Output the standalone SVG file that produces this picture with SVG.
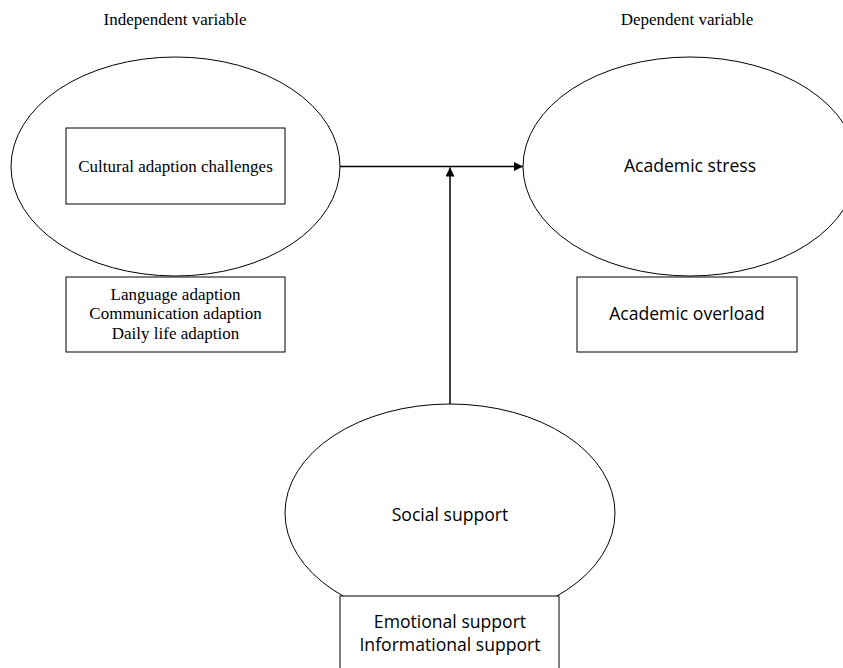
<svg xmlns="http://www.w3.org/2000/svg" width="843" height="668" viewBox="0 0 843 668">
<style>
.shape{fill:#fff;stroke:#000;stroke-width:1}
.serif{font-family:"Liberation Serif","DejaVu Serif",serif;font-size:17px;fill:#000;text-anchor:middle}
.sans{font-family:"Open Sans","Liberation Sans",sans-serif;font-size:17.6px;fill:#000;text-anchor:middle}
.conn{stroke:#000;stroke-width:1.5;fill:none}
</style>
<defs>
<marker id="arr" viewBox="0 0 10 10" refX="10" refY="5" markerWidth="10" markerHeight="9" markerUnits="userSpaceOnUse" orient="auto">
<path d="M0,0 L10,5 L0,10 z" fill="#000"/>
</marker>
</defs>
<text class="serif" x="175" y="25">Independent variable</text>
<text class="serif" x="687" y="25">Dependent variable</text>
<g id="iv">
<ellipse class="shape" cx="175.5" cy="166.5" rx="164.5" ry="109.5"/>
<rect class="shape" x="66" y="128" width="219" height="76"/>
<text class="serif" x="175.5" y="172">Cultural adaption challenges</text>
</g>
<g id="iv-dims">
<rect class="shape" x="66" y="277" width="219" height="75"/>
<text class="serif" x="175.5" y="300">Language adaption</text>
<text class="serif" x="175.5" y="319">Communication adaption</text>
<text class="serif" x="175.5" y="338.5">Daily life adaption</text>
</g>
<g id="dv">
<ellipse class="shape" cx="690" cy="166.5" rx="167" ry="109.5"/>
<text class="sans" x="690" y="172">Academic stress</text>
</g>
<g id="dv-dims">
<rect class="shape" x="577" y="277" width="220" height="75"/>
<text class="sans" x="687" y="320">Academic overload</text>
</g>
<g id="mod">
<ellipse class="shape" cx="450" cy="513" rx="165" ry="109"/>
<text class="sans" x="450" y="521">Social support</text>
</g>
<g id="mod-dims">
<rect class="shape" x="340" y="596" width="219" height="90"/>
<text class="sans" x="450" y="628">Emotional support</text>
<text class="sans" x="450" y="651">Informational support</text>
</g>
<g id="connectors">
<line class="conn" x1="340" y1="166.5" x2="523" y2="166.5" marker-end="url(#arr)"/>
<line class="conn" x1="450" y1="404" x2="450" y2="167.5" marker-end="url(#arr)"/>
</g>
</svg>
